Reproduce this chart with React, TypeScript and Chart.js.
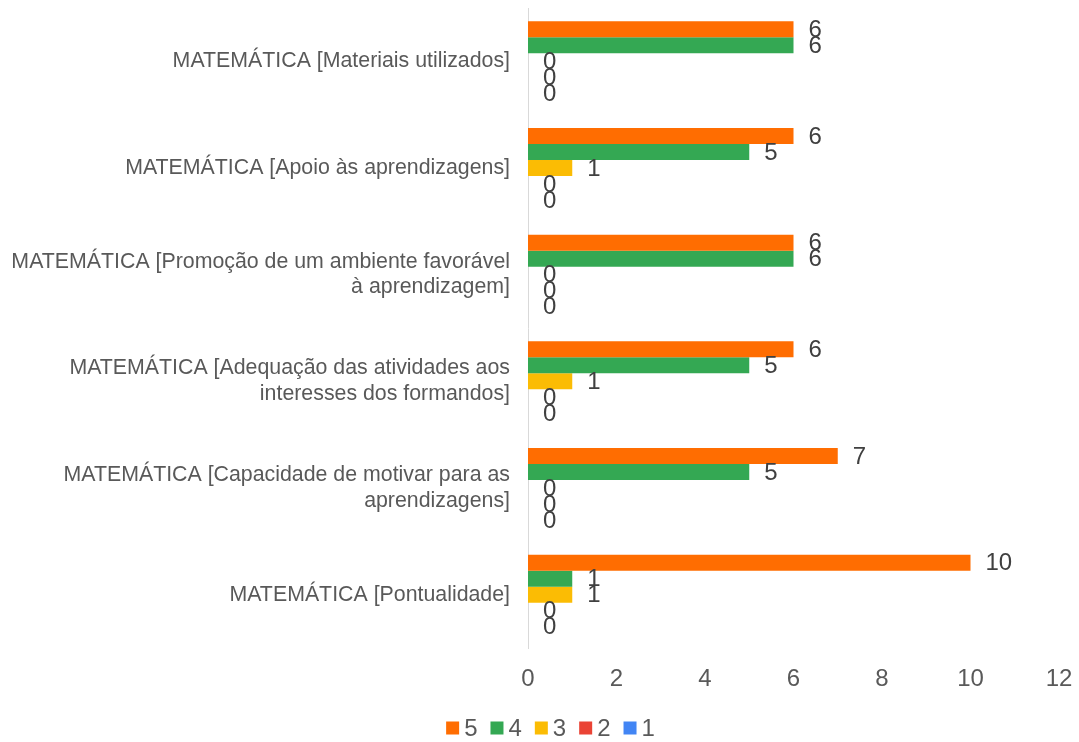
import React, { useEffect, useRef } from "react";
import { Chart, registerables } from "chart.js";

Chart.register(...registerables);

const categories: string[][] = [
  ["MATEMÁTICA [Materiais utilizados]"],
  ["MATEMÁTICA [Apoio às aprendizagens]"],
  ["MATEMÁTICA [Promoção de um ambiente favorável", "à aprendizagem]"],
  ["MATEMÁTICA [Adequação das atividades aos", "interesses dos formandos]"],
  ["MATEMÁTICA [Capacidade de motivar para as", "aprendizagens]"],
  ["MATEMÁTICA [Pontualidade]"],
];

const seriesNames = ["5", "4", "3", "2", "1"];
const series5 = [6, 6, 6, 6, 7, 10];
const series4 = [6, 5, 6, 5, 5, 1];
const series3 = [0, 1, 0, 1, 0, 1];
const series2 = [0, 0, 0, 0, 0, 0];
const series1 = [0, 0, 0, 0, 0, 0];
const seriesColors = ["#FF6D01", "#34A853", "#FBBC04", "#EA4335", "#4285F4"];
const xTicks = [0, 2, 4, 6, 8, 10, 12];

const FONT = "'Liberation Sans', Arial, sans-serif";

const dataLabels = {
  id: "dataLabels",
  afterDatasetsDraw(chart: any) {
    const ctx = chart.ctx;
    ctx.save();
    ctx.font = `24px ${FONT}`;
    ctx.fillStyle = "#404040";
    ctx.textAlign = "left";
    ctx.textBaseline = "middle";
    chart.data.datasets.forEach((ds: any, i: number) => {
      const meta = chart.getDatasetMeta(i);
      meta.data.forEach((el: any, j: number) => {
        ctx.fillText(String(ds.data[j]), el.x + 15, el.y + 1);
      });
    });
    ctx.restore();
  },
};

// Legend drawn under the axis: square swatch, small gap, label.
const bottomLegend = {
  id: "bottomLegend",
  afterDraw(chart: any) {
    const ctx = chart.ctx;
    const box = 13;
    const gapText = 5;
    const gapItem = 13;
    ctx.save();
    ctx.font = `24px ${FONT}`;
    ctx.textBaseline = "middle";
    ctx.textAlign = "left";
    const items = chart.data.datasets.map((ds: any) => ({
      label: String(ds.label),
      color: ds.backgroundColor,
      w: ctx.measureText(String(ds.label)).width,
    }));
    const total =
      items.reduce((s: number, it: any) => s + box + gapText + it.w, 0) +
      gapItem * (items.length - 1);
    const cy = chart.height - 14;
    let x = chart.width / 2 + 11 - total / 2;
    items.forEach((it: any) => {
      ctx.fillStyle = it.color;
      ctx.fillRect(x, cy - box / 2, box, box);
      ctx.fillStyle = "#595959";
      ctx.fillText(it.label, x + box + gapText, cy + 1);
      x += box + gapText + it.w + gapItem;
    });
    ctx.restore();
  },
};

export default function App() {
  const ref = useRef<HTMLCanvasElement | null>(null);
  useEffect(() => {
    if (!ref.current) return;
    const all = [series5, series4, series3, series2, series1];
    const chart = new Chart(ref.current, {
      type: "bar",
      data: {
        labels: categories,
        datasets: all.map((d, i) => ({
          label: seriesNames[i],
          data: d,
          backgroundColor: seriesColors[i],
          borderWidth: 0,
          categoryPercentage: 0.75,
          barPercentage: 1,
        })),
      },
      options: {
        indexAxis: "y",
        animation: false,
        responsive: false,
        maintainAspectRatio: false,
        layout: { padding: { top: 8, right: 20, left: 0, bottom: 44 } },
        plugins: {
          legend: { display: false },
          tooltip: { enabled: false },
        },
        scales: {
          x: {
            min: 0,
            max: 12,
            afterBuildTicks: (scale: any) => {
              scale.ticks = xTicks.map((v) => ({ value: v }));
            },
            grid: { display: false, drawTicks: false },
            border: { display: false },
            ticks: {
              color: "#595959",
              font: { family: FONT, size: 24 },
              padding: 17,
            },
            afterFit: (scale: any) => {
              scale.height = 50;
              scale.paddingLeft = 0;
              scale.paddingRight = 0;
            },
          },
          y: {
            grid: { display: false, drawTicks: false },
            border: { display: true, color: "#D9D9D9", width: 1 },
            ticks: {
              color: "#595959",
              font: { family: FONT, size: 21.33 },
              padding: 18,
            },
            afterFit: (scale: any) => {
              scale.width = 528;
              scale.paddingTop = 0;
              scale.paddingBottom = 0;
            },
          },
        },
      },
      plugins: [dataLabels, bottomLegend],
    });
    return () => chart.destroy();
  }, []);
  return (
    <div style={{ position: "fixed", left: 0, top: 0, width: 1079, height: 742, background: "#fff" }}>
      <canvas ref={ref} width={1079} height={742} style={{ width: 1079, height: 742 }} />
    </div>
  );
}
